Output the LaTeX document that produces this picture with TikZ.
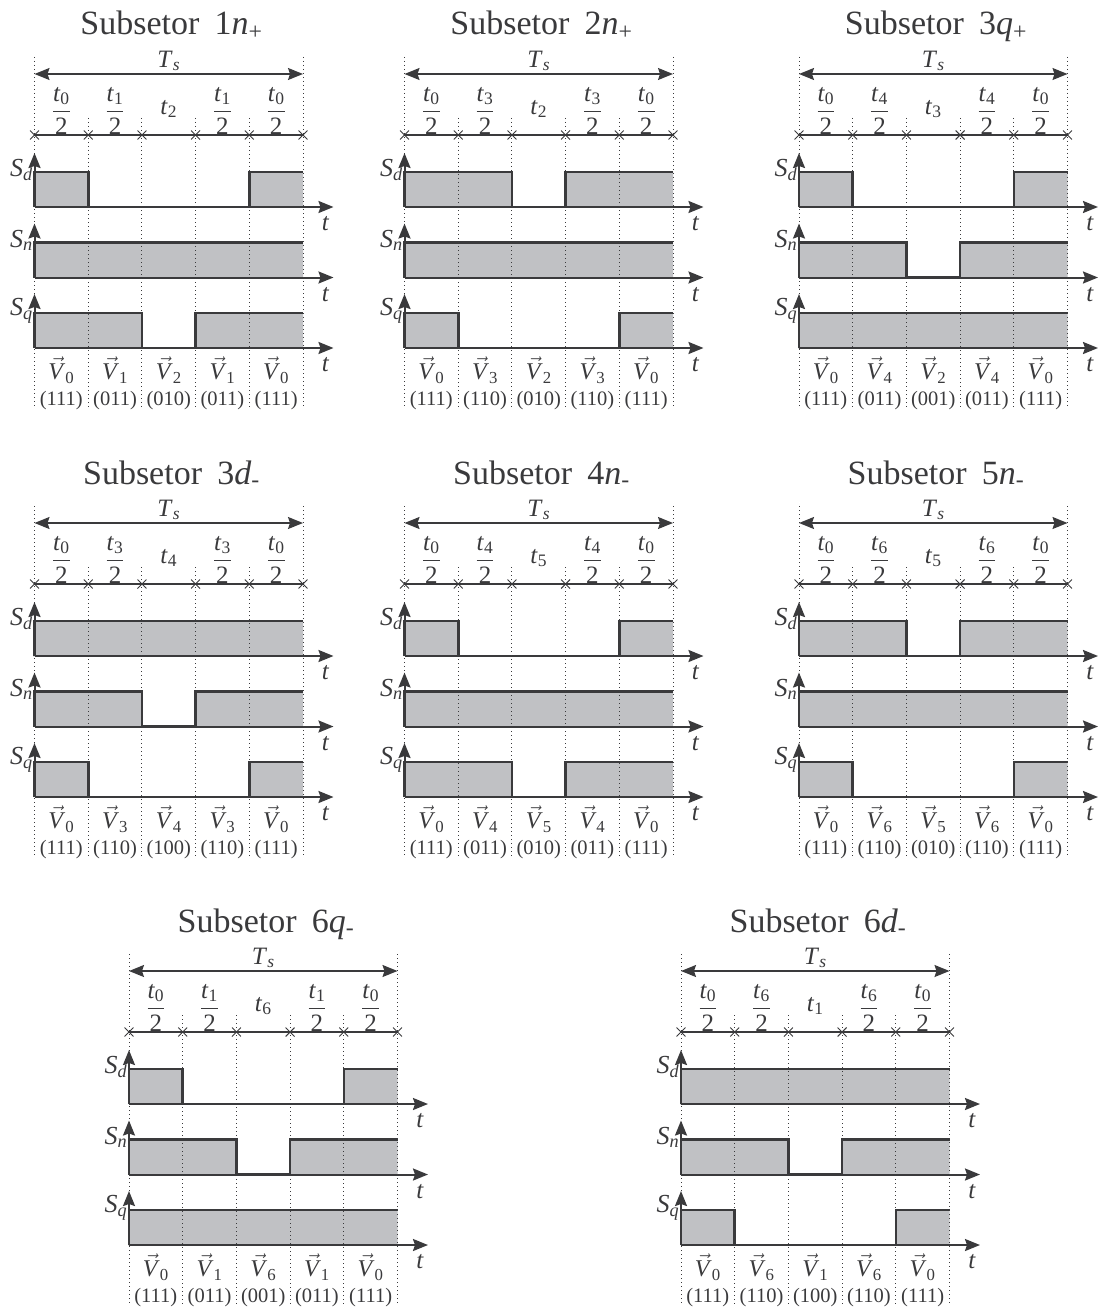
\documentclass[tikz,border=0pt]{standalone}
\usepackage{amsmath}
\usepackage{fontspec}
\setmainfont{Liberation Serif}
\usetikzlibrary{arrows.meta,shapes.misc}

\definecolor{ink}{RGB}{58,58,60}
\definecolor{pulse}{RGB}{192,193,196}

\newcommand{\slotw}{53.7}
\newcommand{\tlab}[1]{\textit{t}\textsubscript{#1}}
\newcommand{\thalf}[1]{$\dfrac{\text{\textit{t}}_{\text{#1}}}{\text{2}}$}
\newcommand{\vlab}[1]{$\vec{\text{\textit{V}}}_{\text{#1}}$}

% one switching signal: name, base line, low from slot a to slot b, letter
\newcommand{\sectwave}[5]{%
\fill[pulse] (0,#2) -- (0,#2-35) -- (#3*\slotw,#2-35) -- (#3*\slotw,#2) -- (#4*\slotw,#2) -- (#4*\slotw,#2-35) -- (5*\slotw,#2-35) -- (5*\slotw,#2) -- cycle;
\coordinate (#1-o) at (0,#2);
\coordinate (#1-t) at (299,#2);
\coordinate (#1-s) at (0,#2-54);
\draw[axisline] (#1-o) -- (#1-t);
\draw[waveline] (0,#2) -- (0,#2-35) -- (#3*\slotw,#2-35) -- (#3*\slotw,#2) -- (#4*\slotw,#2) -- (#4*\slotw,#2-35) -- (5*\slotw,#2-35);
\draw[axisline] (#1-o) -- (#1-s);
\node[signode] (#1-name) at (-1.5,#2-37) {\textit{S}\textsubscript{\textit{#5}}};
\node[labelnode] (#1-tlab) at (291,#2+17) {\textit{t}};
}

% title, period, slot times and grid
\newcommand{\sectframe}[4]{%
\node[titlenode] (#1-title) at (137,35) {Subsetor\hspace{0.45em}#2};
\node[labelnode] (#1-Ts) at (134.25,61) {\textit{T}\textsubscript{\textit{s}}};
\coordinate (#1-left) at (0,74);
\coordinate (#1-right) at (268.5,74);
\draw[spanline] (#1-left) -- (#1-right);
\draw[guide] (0,57) -- (0,407) (268.5,57) -- (268.5,407);
\foreach \i in {1,...,4} \draw[guide] (\i*\slotw,118) -- (\i*\slotw,407);
\draw[tickline] (0,135) -- (268.5,135);
\foreach \i in {0,...,5} \node[crossmark] (#1-x\i) at (\i*\slotw,135) {};
\node[labelnode] (#1-f0) at (0.5*\slotw,111) {\thalf{0}};
\node[labelnode] (#1-f1) at (1.5*\slotw,111) {\thalf{#3}};
\node[labelnode] (#1-f2) at (2.5*\slotw,109) {\tlab{#4}};
\node[labelnode] (#1-f3) at (3.5*\slotw,111) {\thalf{#3}};
\node[labelnode] (#1-f4) at (4.5*\slotw,111) {\thalf{0}};
}

% vectors and switching states below the signals
\newcommand{\sectvecs}[5]{%
\node[vecnode] (#1-v0) at (0.5*\slotw,370) {\vlab{0}};
\node[vecnode] (#1-v1) at (1.5*\slotw,370) {\vlab{#2}};
\node[vecnode] (#1-v2) at (2.5*\slotw,370) {\vlab{#3}};
\node[vecnode] (#1-v3) at (3.5*\slotw,370) {\vlab{#2}};
\node[vecnode] (#1-v4) at (4.5*\slotw,370) {\vlab{0}};
\node[codenode] (#1-c0) at (0.5*\slotw,401) {(111)};
\node[codenode] (#1-c1) at (1.5*\slotw,401) {(#4)};
\node[codenode] (#1-c2) at (2.5*\slotw,401) {(#5)};
\node[codenode] (#1-c3) at (3.5*\slotw,401) {(#4)};
\node[codenode] (#1-c4) at (4.5*\slotw,401) {(111)};
}

\begin{document}
\begin{tikzpicture}[x=1pt,y=-1pt,
  titlenode/.style={font=\fontsize{34}{40}\selectfont,text=ink,anchor=base},
  labelnode/.style={font=\fontsize{25}{28}\selectfont,text=ink,inner sep=1pt},
  signode/.style={font=\fontsize{26}{28}\selectfont,text=ink,inner sep=0pt,anchor=east},
  vecnode/.style={font=\fontsize{24}{28}\selectfont,text=ink,inner sep=0pt},
  codenode/.style={font=\fontsize{20.5}{24}\selectfont,text=ink,inner sep=0pt},
  waveline/.style={draw=ink,line width=2.6pt,line join=miter},
  axisline/.style={draw=ink,line width=2pt,-{Stealth[length=15pt,width=12pt,inset=2pt]}},
  spanline/.style={draw=ink,line width=1.5pt,{Stealth[length=15pt,width=12pt,inset=2pt]}-{Stealth[length=15pt,width=12pt,inset=2pt]}},
  tickline/.style={draw=ink,line width=1.2pt},
  crossmark/.style={cross out,draw=ink,line width=0.9pt,minimum size=8pt,inner sep=0pt},
  guide/.style={draw=ink,line width=1pt,dash pattern=on 1pt off 3pt}]
\useasboundingbox (0,0) rectangle (1097,1308);

\begin{scope}[shift={(34.5,0)}]
\sectwave{p1d}{207}{1}{4}{d}
\sectwave{p1n}{277.5}{0}{0}{n}
\sectwave{p1q}{348}{2}{3}{q}
\sectframe{p1}{1\textit{n}\textsubscript{+}}{1}{2}
\sectvecs{p1}{1}{2}{011}{010}
\end{scope}

\begin{scope}[shift={(404.5,0)}]
\sectwave{p2d}{207}{2}{3}{d}
\sectwave{p2n}{277.5}{0}{0}{n}
\sectwave{p2q}{348}{1}{4}{q}
\sectframe{p2}{2\textit{n}\textsubscript{+}}{3}{2}
\sectvecs{p2}{3}{2}{110}{010}
\end{scope}

\begin{scope}[shift={(799,0)}]
\sectwave{p3d}{207}{1}{4}{d}
\sectwave{p3n}{277.5}{2}{3}{n}
\sectwave{p3q}{348}{0}{0}{q}
\sectframe{p3}{3\textit{q}\textsubscript{+}}{4}{3}
\sectvecs{p3}{4}{2}{011}{001}
\end{scope}

\begin{scope}[shift={(34.5,449)}]
\sectwave{p4d}{207}{0}{0}{d}
\sectwave{p4n}{277.5}{2}{3}{n}
\sectwave{p4q}{348}{1}{4}{q}
\sectframe{p4}{3\textit{d}\textsubscript{-}}{3}{4}
\sectvecs{p4}{3}{4}{110}{100}
\end{scope}

\begin{scope}[shift={(404.5,449)}]
\sectwave{p5d}{207}{1}{4}{d}
\sectwave{p5n}{277.5}{0}{0}{n}
\sectwave{p5q}{348}{2}{3}{q}
\sectframe{p5}{4\textit{n}\textsubscript{-}}{4}{5}
\sectvecs{p5}{4}{5}{011}{010}
\end{scope}

\begin{scope}[shift={(799,449)}]
\sectwave{p6d}{207}{2}{3}{d}
\sectwave{p6n}{277.5}{0}{0}{n}
\sectwave{p6q}{348}{1}{4}{q}
\sectframe{p6}{5\textit{n}\textsubscript{-}}{6}{5}
\sectvecs{p6}{6}{5}{110}{010}
\end{scope}

\begin{scope}[shift={(129,897)}]
\sectwave{p7d}{207}{1}{4}{d}
\sectwave{p7n}{277.5}{2}{3}{n}
\sectwave{p7q}{348}{0}{0}{q}
\sectframe{p7}{6\textit{q}\textsubscript{-}}{1}{6}
\sectvecs{p7}{1}{6}{011}{001}
\end{scope}

\begin{scope}[shift={(681,897)}]
\sectwave{p8d}{207}{0}{0}{d}
\sectwave{p8n}{277.5}{2}{3}{n}
\sectwave{p8q}{348}{1}{4}{q}
\sectframe{p8}{6\textit{d}\textsubscript{-}}{6}{1}
\sectvecs{p8}{6}{1}{110}{100}
\end{scope}

\end{tikzpicture}
\end{document}
